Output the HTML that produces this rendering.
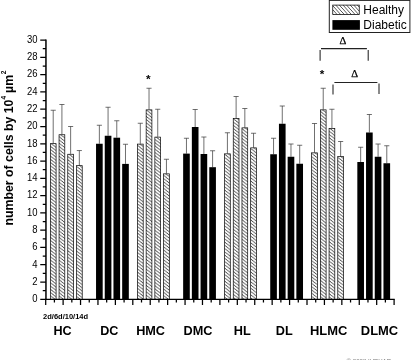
<!DOCTYPE html>
<html><head><meta charset="utf-8"><title>chart</title>
<style>html,body{margin:0;padding:0;background:#fff}svg{display:block}text{font-family:"Liberation Sans",sans-serif;fill:#000}.b{font-weight:bold}.s{font-family:"Liberation Serif",serif}</style></head><body>
<svg width="411" height="360" viewBox="0 0 411 360">
<defs><pattern id="h" patternUnits="userSpaceOnUse" width="4.2" height="3.25"><path d="M-4.2,-3.25 L8.4,6.5 M-4.2,0 L4.2,6.5 M0,-3.25 L8.4,3.25" stroke="#000" stroke-width="0.72" fill="none"/></pattern><pattern id="hl" patternUnits="userSpaceOnUse" width="3.6" height="4.0"><path d="M-3.6,-4.0 L7.2,8.0 M-3.6,0 L3.6,8.0 M0,-4.0 L7.2,4.0" stroke="#000" stroke-width="0.68" fill="none"/></pattern></defs>
<rect width="411" height="360" fill="#fff"/>
<path d="M53.21,143.30 V110.25 M50.66,110.25 H55.76" stroke="#383838" stroke-width="0.72" fill="none"/>
<rect x="50.34" y="143.65" width="5.75" height="155.65" fill="url(#h)" stroke="#000" stroke-width="0.7"/>
<path d="M61.92,134.40 V104.50 M59.37,104.50 H64.47" stroke="#383838" stroke-width="0.72" fill="none"/>
<rect x="59.05" y="134.75" width="5.75" height="164.55" fill="url(#h)" stroke="#000" stroke-width="0.7"/>
<path d="M70.63,153.90 V126.50 M68.08,126.50 H73.18" stroke="#383838" stroke-width="0.72" fill="none"/>
<rect x="67.76" y="154.25" width="5.75" height="145.05" fill="url(#h)" stroke="#000" stroke-width="0.7"/>
<path d="M79.34,165.30 V150.55 M76.79,150.55 H81.89" stroke="#383838" stroke-width="0.72" fill="none"/>
<rect x="76.47" y="165.65" width="5.75" height="133.65" fill="url(#h)" stroke="#000" stroke-width="0.7"/>
<path d="M99.36,143.75 V125.25 M96.81,125.25 H101.91" stroke="#383838" stroke-width="0.72" fill="none"/>
<rect x="96.04" y="143.75" width="6.65" height="155.55" fill="#000"/>
<path d="M108.07,135.75 V107.25 M105.52,107.25 H110.62" stroke="#383838" stroke-width="0.72" fill="none"/>
<rect x="104.75" y="135.75" width="6.65" height="163.55" fill="#000"/>
<path d="M116.78,137.70 V120.75 M114.23,120.75 H119.33" stroke="#383838" stroke-width="0.72" fill="none"/>
<rect x="113.46" y="137.70" width="6.65" height="161.60" fill="#000"/>
<path d="M125.49,163.90 V144.25 M122.94,144.25 H128.04" stroke="#383838" stroke-width="0.72" fill="none"/>
<rect x="122.17" y="163.90" width="6.65" height="135.40" fill="#000"/>
<path d="M140.31,143.75 V123.25 M137.76,123.25 H142.86" stroke="#383838" stroke-width="0.72" fill="none"/>
<rect x="137.44" y="144.10" width="5.75" height="155.20" fill="url(#h)" stroke="#000" stroke-width="0.7"/>
<path d="M149.02,109.50 V88.25 M146.47,88.25 H151.57" stroke="#383838" stroke-width="0.72" fill="none"/>
<rect x="146.15" y="109.85" width="5.75" height="189.45" fill="url(#h)" stroke="#000" stroke-width="0.7"/>
<path d="M157.73,136.75 V109.25 M155.18,109.25 H160.28" stroke="#383838" stroke-width="0.72" fill="none"/>
<rect x="154.86" y="137.10" width="5.75" height="162.20" fill="url(#h)" stroke="#000" stroke-width="0.7"/>
<path d="M166.44,173.50 V159.25 M163.89,159.25 H168.99" stroke="#383838" stroke-width="0.72" fill="none"/>
<rect x="163.57" y="173.85" width="5.75" height="125.45" fill="url(#h)" stroke="#000" stroke-width="0.7"/>
<path d="M186.46,153.60 V138.25 M183.91,138.25 H189.01" stroke="#383838" stroke-width="0.72" fill="none"/>
<rect x="183.14" y="153.60" width="6.65" height="145.70" fill="#000"/>
<path d="M195.17,127.00 V109.50 M192.62,109.50 H197.72" stroke="#383838" stroke-width="0.72" fill="none"/>
<rect x="191.85" y="127.00" width="6.65" height="172.30" fill="#000"/>
<path d="M203.88,154.00 V137.00 M201.33,137.00 H206.43" stroke="#383838" stroke-width="0.72" fill="none"/>
<rect x="200.56" y="154.00" width="6.65" height="145.30" fill="#000"/>
<path d="M212.59,167.20 V150.75 M210.04,150.75 H215.14" stroke="#383838" stroke-width="0.72" fill="none"/>
<rect x="209.27" y="167.20" width="6.65" height="132.10" fill="#000"/>
<path d="M227.41,153.50 V132.75 M224.86,132.75 H229.96" stroke="#383838" stroke-width="0.72" fill="none"/>
<rect x="224.54" y="153.85" width="5.75" height="145.45" fill="url(#h)" stroke="#000" stroke-width="0.7"/>
<path d="M236.12,118.00 V96.50 M233.57,96.50 H238.67" stroke="#383838" stroke-width="0.72" fill="none"/>
<rect x="233.25" y="118.35" width="5.75" height="180.95" fill="url(#h)" stroke="#000" stroke-width="0.7"/>
<path d="M244.83,127.50 V108.50 M242.28,108.50 H247.38" stroke="#383838" stroke-width="0.72" fill="none"/>
<rect x="241.96" y="127.85" width="5.75" height="171.45" fill="url(#h)" stroke="#000" stroke-width="0.7"/>
<path d="M253.54,147.50 V133.25 M250.99,133.25 H256.09" stroke="#383838" stroke-width="0.72" fill="none"/>
<rect x="250.67" y="147.85" width="5.75" height="151.45" fill="url(#h)" stroke="#000" stroke-width="0.7"/>
<path d="M273.56,154.25 V138.25 M271.01,138.25 H276.11" stroke="#383838" stroke-width="0.72" fill="none"/>
<rect x="270.23" y="154.25" width="6.65" height="145.05" fill="#000"/>
<path d="M282.27,123.75 V106.00 M279.72,106.00 H284.82" stroke="#383838" stroke-width="0.72" fill="none"/>
<rect x="278.94" y="123.75" width="6.65" height="175.55" fill="#000"/>
<path d="M290.98,156.75 V144.00 M288.43,144.00 H293.53" stroke="#383838" stroke-width="0.72" fill="none"/>
<rect x="287.65" y="156.75" width="6.65" height="142.55" fill="#000"/>
<path d="M299.69,163.75 V145.25 M297.14,145.25 H302.24" stroke="#383838" stroke-width="0.72" fill="none"/>
<rect x="296.36" y="163.75" width="6.65" height="135.55" fill="#000"/>
<path d="M314.51,152.50 V123.50 M311.96,123.50 H317.06" stroke="#383838" stroke-width="0.72" fill="none"/>
<rect x="311.64" y="152.85" width="5.75" height="146.45" fill="url(#h)" stroke="#000" stroke-width="0.7"/>
<path d="M323.22,109.50 V88.25 M320.67,88.25 H325.77" stroke="#383838" stroke-width="0.72" fill="none"/>
<rect x="320.35" y="109.85" width="5.75" height="189.45" fill="url(#h)" stroke="#000" stroke-width="0.7"/>
<path d="M331.93,128.00 V109.25 M329.38,109.25 H334.48" stroke="#383838" stroke-width="0.72" fill="none"/>
<rect x="329.06" y="128.35" width="5.75" height="170.95" fill="url(#h)" stroke="#000" stroke-width="0.7"/>
<path d="M340.64,156.25 V141.50 M338.09,141.50 H343.19" stroke="#383838" stroke-width="0.72" fill="none"/>
<rect x="337.77" y="156.60" width="5.75" height="142.70" fill="url(#h)" stroke="#000" stroke-width="0.7"/>
<path d="M360.66,162.00 V147.25 M358.11,147.25 H363.21" stroke="#383838" stroke-width="0.72" fill="none"/>
<rect x="357.33" y="162.00" width="6.65" height="137.30" fill="#000"/>
<path d="M369.37,132.50 V114.50 M366.82,114.50 H371.92" stroke="#383838" stroke-width="0.72" fill="none"/>
<rect x="366.04" y="132.50" width="6.65" height="166.80" fill="#000"/>
<path d="M378.08,156.75 V144.00 M375.53,144.00 H380.63" stroke="#383838" stroke-width="0.72" fill="none"/>
<rect x="374.75" y="156.75" width="6.65" height="142.55" fill="#000"/>
<path d="M386.79,163.25 V145.75 M384.24,145.75 H389.34" stroke="#383838" stroke-width="0.72" fill="none"/>
<rect x="383.46" y="163.25" width="6.65" height="136.05" fill="#000"/>
<path d="M45.95,39.4 V300.05" stroke="#000" stroke-width="1.5" fill="none"/>
<path d="M45.25,299.40 H394.70" stroke="#000" stroke-width="1.3" fill="none"/>
<path d="M40.25,299.30 H45.95 M42.75,290.66 H45.95 M40.25,282.02 H45.95 M42.75,273.38 H45.95 M40.25,264.74 H45.95 M42.75,256.10 H45.95 M40.25,247.46 H45.95 M42.75,238.82 H45.95 M40.25,230.18 H45.95 M42.75,221.54 H45.95 M40.25,212.90 H45.95 M42.75,204.26 H45.95 M40.25,195.62 H45.95 M42.75,186.98 H45.95 M40.25,178.34 H45.95 M42.75,169.70 H45.95 M40.25,161.06 H45.95 M42.75,152.42 H45.95 M40.25,143.78 H45.95 M42.75,135.14 H45.95 M40.25,126.50 H45.95 M42.75,117.86 H45.95 M40.25,109.22 H45.95 M42.75,100.58 H45.95 M40.25,91.94 H45.95 M42.75,83.30 H45.95 M40.25,74.66 H45.95 M42.75,66.02 H45.95 M40.25,57.38 H45.95 M42.75,48.74 H45.95 M40.25,40.10 H45.95 " stroke="#000" stroke-width="1.25" fill="none"/>
<text transform="translate(37.55,302.10) scale(0.94,1)" font-size="10.1" text-anchor="end">0</text>
<text transform="translate(37.55,284.82) scale(0.94,1)" font-size="10.1" text-anchor="end">2</text>
<text transform="translate(37.55,267.54) scale(0.94,1)" font-size="10.1" text-anchor="end">4</text>
<text transform="translate(37.55,250.26) scale(0.94,1)" font-size="10.1" text-anchor="end">6</text>
<text transform="translate(37.55,232.98) scale(0.94,1)" font-size="10.1" text-anchor="end">8</text>
<text transform="translate(37.55,215.70) scale(0.94,1)" font-size="10.1" text-anchor="end">10</text>
<text transform="translate(37.55,198.42) scale(0.94,1)" font-size="10.1" text-anchor="end">12</text>
<text transform="translate(37.55,181.14) scale(0.94,1)" font-size="10.1" text-anchor="end">14</text>
<text transform="translate(37.55,163.86) scale(0.94,1)" font-size="10.1" text-anchor="end">16</text>
<text transform="translate(37.55,146.58) scale(0.94,1)" font-size="10.1" text-anchor="end">18</text>
<text transform="translate(37.55,129.30) scale(0.94,1)" font-size="10.1" text-anchor="end">20</text>
<text transform="translate(37.55,112.02) scale(0.94,1)" font-size="10.1" text-anchor="end">22</text>
<text transform="translate(37.55,94.74) scale(0.94,1)" font-size="10.1" text-anchor="end">24</text>
<text transform="translate(37.55,77.46) scale(0.94,1)" font-size="10.1" text-anchor="end">26</text>
<text transform="translate(37.55,60.18) scale(0.94,1)" font-size="10.1" text-anchor="end">28</text>
<text transform="translate(37.55,42.90) scale(0.94,1)" font-size="10.1" text-anchor="end">30</text>
<path d="M45.70,299.30 V305.10 M54.41,299.30 V302.50 M63.12,299.30 V305.10 M71.83,299.30 V302.50 M80.54,299.30 V305.10 M89.25,299.30 V302.50 M97.96,299.30 V305.10 M106.67,299.30 V302.50 M115.38,299.30 V305.10 M124.09,299.30 V302.50 M132.80,299.30 V305.10 M141.51,299.30 V302.50 M150.22,299.30 V305.10 M158.93,299.30 V302.50 M167.64,299.30 V305.10 M176.35,299.30 V302.50 M185.06,299.30 V305.10 M193.77,299.30 V302.50 M202.48,299.30 V305.10 M211.19,299.30 V302.50 M219.90,299.30 V305.10 M228.61,299.30 V302.50 M237.32,299.30 V305.10 M246.03,299.30 V302.50 M254.74,299.30 V305.10 M263.45,299.30 V302.50 M272.16,299.30 V305.10 M280.87,299.30 V302.50 M289.58,299.30 V305.10 M298.29,299.30 V302.50 M307.00,299.30 V305.10 M315.71,299.30 V302.50 M324.42,299.30 V305.10 M333.13,299.30 V302.50 M341.84,299.30 V305.10 M350.55,299.30 V302.50 M359.26,299.30 V305.10 M367.97,299.30 V302.50 M376.68,299.30 V305.10 M385.39,299.30 V302.50 M394.10,299.30 V305.10 " stroke="#000" stroke-width="1.25" fill="none"/>
<text class="b" x="43.1" y="318.6" font-size="7.5">2d/6d/10/14d</text>
<text class="b" x="62.6" y="335.1" font-size="12.6" text-anchor="middle">HC</text>
<text class="b" x="109.3" y="335.1" font-size="12.6" text-anchor="middle">DC</text>
<text class="b" x="150.6" y="335.1" font-size="12.7" text-anchor="middle">HMC</text>
<text class="b" x="198" y="335.1" font-size="12.7" text-anchor="middle">DMC</text>
<text class="b" x="242.3" y="335.1" font-size="12.7" text-anchor="middle">HL</text>
<text class="b" x="284.2" y="335.1" font-size="12.7" text-anchor="middle">DL</text>
<text class="b" x="328.7" y="335.1" font-size="12.95" text-anchor="middle">HLMC</text>
<text class="b" x="379.5" y="335.1" font-size="12.95" text-anchor="middle">DLMC</text>
<text class="b" transform="translate(12.8,225.6) rotate(-90)" font-size="12.33">number of cells by 10<tspan font-size="6.6" dy="-7.3">4</tspan><tspan x="132.7" dy="7.3">µm</tspan><tspan font-size="6.6" x="151.3" dy="-7.3">2</tspan></text>
<rect x="329.3" y="0.4" width="80.6" height="32.1" fill="#fff" stroke="#222" stroke-width="1"/>
<rect x="332.75" y="5.1" width="26.5" height="9.4" fill="url(#hl)" stroke="#111" stroke-width="0.8"/>
<rect x="332.4" y="20.1" width="27.5" height="9.7" fill="#000"/>
<text x="363.3" y="14.3" font-size="12">Healthy</text>
<text x="363.3" y="28.6" font-size="12">Diabetic</text>
<path d="M320.1,50.1 V60.7 M321,48.6 H366.9 M368.2,50.1 V60.7" stroke="#222" stroke-width="1.05" fill="none"/>
<path d="M333,84.4 V94.6 M334.4,82.45 H377.4 M379,83.5 V94" stroke="#222" stroke-width="1.05" fill="none"/>
<text class="s" x="342.8" y="44.1" font-size="10.6" text-anchor="middle" stroke="#000" stroke-width="0.25">Δ</text>
<text class="s" x="354.7" y="76.5" font-size="10.6" text-anchor="middle" stroke="#000" stroke-width="0.25">Δ</text>
<text class="b" x="148.4" y="83.2" font-size="11.8" text-anchor="middle">*</text>
<text class="b" x="322" y="78.3" font-size="11.8" text-anchor="middle">*</text>
<text x="346.6" y="363.3" font-size="6.1" style="fill:#777">© 2008 IUPHAR</text>
</svg></body></html>
